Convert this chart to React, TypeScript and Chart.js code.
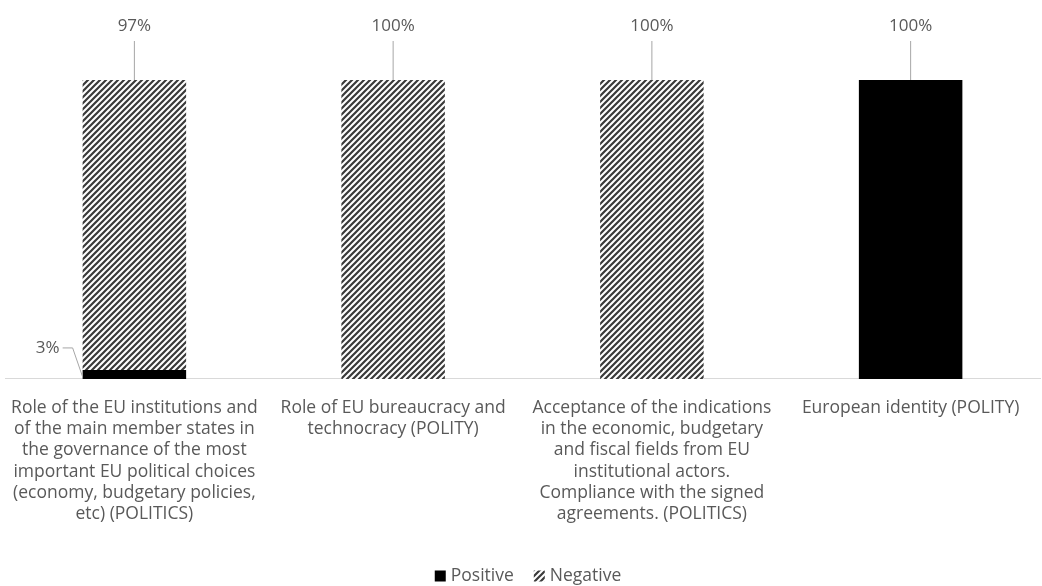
import React, { useEffect, useRef } from "react";
import { Chart, registerables } from "chart.js";

Chart.register(...registerables);

const categories: string[][] = [
  [
    "Role of the EU institutions and",
    "of the main member states in",
    "the governance of the most",
    "important EU political choices",
    "(economy, budgetary policies,",
    "etc) (POLITICS)",
  ],
  ["Role of EU bureaucracy and", "technocracy (POLITY)"],
  [
    "Acceptance of the indications",
    "in the economic, budgetary",
    "and fiscal fields from EU",
    "institutional actors.",
    "Compliance with the signed",
    "agreements. (POLITICS)",
  ],
  ["European identity (POLITY)"],
];

const seriesNames: string[] = ["Positive", "Negative"];
const positiveValues: number[] = [3, 0, 0, 100];
const negativeValues: number[] = [97, 100, 100, 0];

const TEXT = "#595959";
const LEADER = "#a6a6a6";
const FONT = "'Open Sans', 'Noto Sans', sans-serif";
const TICK_SIZE = 17.5;
const LABEL_SIZE = 17;

function makeHatch(): CanvasPattern | string {
  const s = 6;
  const c = document.createElement("canvas");
  c.width = s;
  c.height = s;
  const g = c.getContext("2d");
  if (!g) return "#444";
  g.fillStyle = "#ffffff";
  g.fillRect(0, 0, s, s);
  g.strokeStyle = "#3a3a3a";
  g.lineWidth = 2.2;
  g.beginPath();
  g.moveTo(0, s);
  g.lineTo(s, 0);
  g.moveTo(-s / 2, s / 2);
  g.lineTo(s / 2, -s / 2);
  g.moveTo(s / 2, s + s / 2);
  g.lineTo(s + s / 2, s / 2);
  g.stroke();
  const p = g.createPattern(c, "repeat");
  return p || "#444";
}

const labelPlugin = {
  id: "leaderLabels",
  afterDatasetsDraw(chart: any) {
    const ctx = chart.ctx;
    ctx.save();
    ctx.font = `${LABEL_SIZE}px ${FONT}`;
    ctx.fillStyle = TEXT;
    ctx.strokeStyle = LEADER;
    ctx.lineWidth = 1;
    chart.data.datasets.forEach((ds: any, di: number) => {
      const meta = chart.getDatasetMeta(di);
      meta.data.forEach((el: any, i: number) => {
        const v = ds.data[i];
        if (!v) return;
        const txt = `${v}%`;
        if (v < 10) {
          const left = el.x - el.width / 2;
          const ty = el.y - 22;
          ctx.textAlign = "right";
          ctx.textBaseline = "middle";
          ctx.fillText(txt, left - 23, ty);
          ctx.beginPath();
          ctx.moveTo(left - 20, ty);
          ctx.lineTo(left - 10, ty);
          ctx.lineTo(left, el.base - 2);
          ctx.stroke();
        } else {
          const ty = el.y - 54;
          ctx.textAlign = "center";
          ctx.textBaseline = "middle";
          ctx.fillText(txt, el.x, ty);
          ctx.beginPath();
          ctx.moveTo(el.x, el.y - 39);
          ctx.lineTo(el.x, el.y);
          ctx.stroke();
        }
      });
    });
    ctx.restore();
  },
};

const legendPlugin = {
  id: "customLegend",
  afterDraw(chart: any) {
    const ctx = chart.ctx;
    ctx.save();
    ctx.font = `${TICK_SIZE}px ${FONT}`;
    ctx.textBaseline = "middle";
    ctx.textAlign = "left";
    const box = 11;
    const gap = 5;
    const itemGap = 20;
    const items = chart.data.datasets.map((ds: any) => ({
      label: ds.label,
      fill: ds.backgroundColor,
      w: box + gap + ctx.measureText(ds.label).width,
    }));
    const total = items.reduce((a: number, it: any) => a + it.w, 0) + itemGap * (items.length - 1);
    let x = chart.width / 2 + 7 - total / 2;
    const y = chart.height - 10;
    items.forEach((it: any) => {
      ctx.fillStyle = it.fill;
      ctx.fillRect(x, y - box / 2, box, box);
      ctx.fillStyle = TEXT;
      ctx.fillText(it.label, x + box + gap, y);
      x += it.w + itemGap;
    });
    ctx.restore();
  },
};

export default function App() {
  const ref = useRef<HTMLCanvasElement>(null);
  useEffect(() => {
    if (!ref.current) return;
    const hatch = makeHatch();
    const chart = new Chart(ref.current, {
      type: "bar",
      data: {
        labels: categories,
        datasets: [
          {
            label: seriesNames[0],
            data: positiveValues,
            backgroundColor: "#000000",
            borderWidth: 0,
          },
          {
            label: seriesNames[1],
            data: negativeValues,
            backgroundColor: hatch as any,
            borderWidth: 0,
          },
        ],
      },
      options: {
        animation: false,
        responsive: true,
        maintainAspectRatio: false,
        layout: { padding: { top: 80, left: 5, right: 2, bottom: 43 } },
        datasets: {
          bar: { categoryPercentage: 1, barPercentage: 0.4 },
        },
        scales: {
          x: {
            stacked: true,
            grid: { display: false, drawTicks: false },
            border: { display: true, color: "#d9d9d9", width: 1 },
            ticks: {
              color: TEXT,
              font: { family: FONT, size: TICK_SIZE, lineHeight: 1.22 },
              padding: 18,
              maxRotation: 0,
              autoSkip: false,
            },
            afterFit: (scale: any) => {
              scale.paddingLeft = 0;
              scale.paddingRight = 0;
            },
          },
          y: {
            stacked: true,
            display: false,
            min: 0,
            max: 100,
          },
        },
        plugins: {
          legend: { display: false },
          tooltip: { enabled: false },
        },
      },
      plugins: [labelPlugin, legendPlugin],
    });
    return () => chart.destroy();
  }, []);
  return (
    <div style={{ position: "fixed", left: 0, top: 0, width: 1042, height: 586, background: "#fff" }}>
      <canvas ref={ref} />
    </div>
  );
}
